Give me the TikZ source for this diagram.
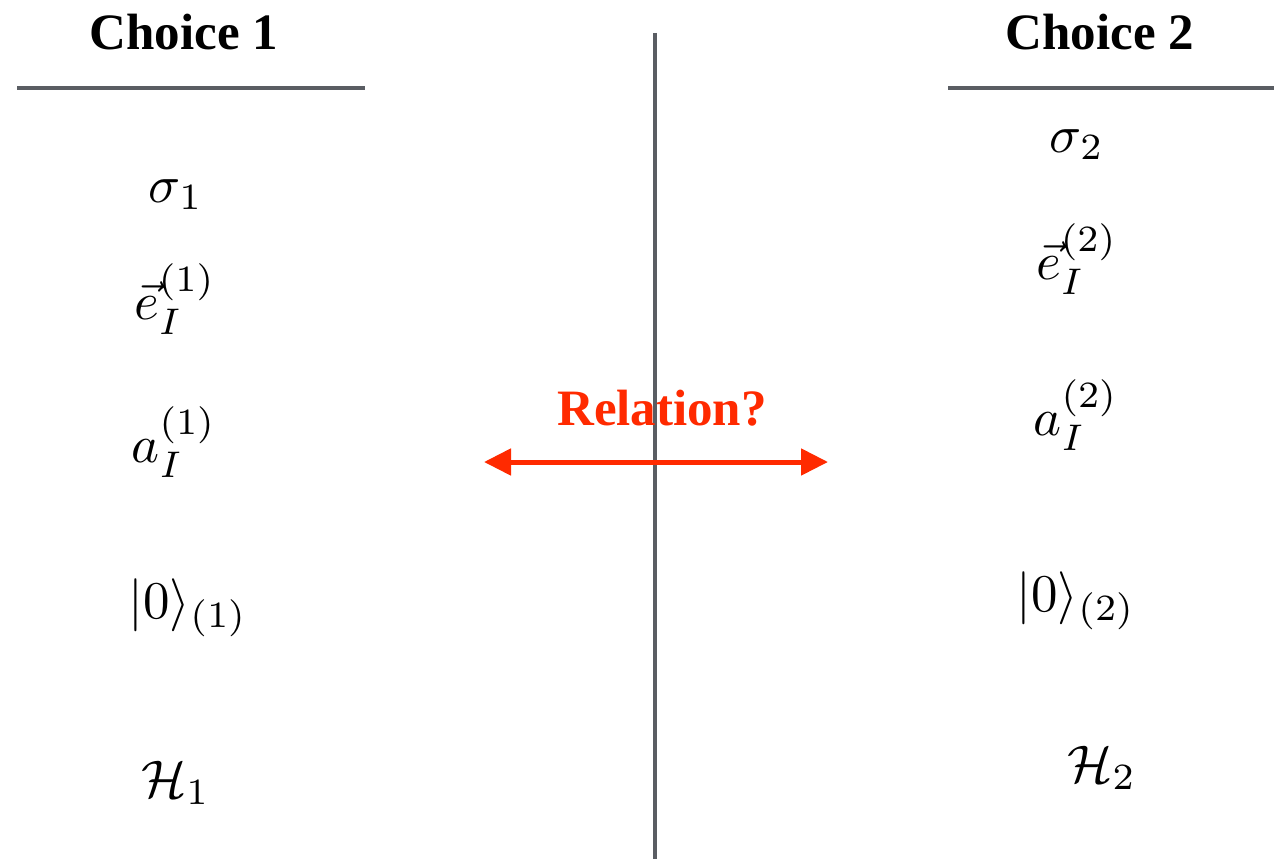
\RequirePackage{fix-cm}
\documentclass[tikz,border=0pt]{standalone}
\usepackage{fontspec}
\newfontfamily\headfont{Liberation Serif}
\usetikzlibrary{arrows.meta}
\definecolor{rulegray}{HTML}{5A5D63}
\definecolor{relred}{HTML}{FF2A00}
\newcommand\bigmath[1]{\scalebox{5.3}{$#1$}}
\begin{document}
\begin{tikzpicture}[x=1pt,y=-1pt,
  head/.style={anchor=base,inner sep=0pt,font=\headfont\bfseries\fontsize{51}{60}\selectfont},
  mathlbl/.style={anchor=base,inner sep=0pt,font=\fontsize{10}{12}\selectfont},
  rulel/.style={draw=rulegray,line width=4pt},
  relarrow/.style={draw=relred,line width=5pt,{Triangle[length=27pt,width=26pt]}-{Triangle[length=27pt,width=26pt]}}]
\useasboundingbox (0,0) rectangle (1274,859);
% headers
\node[head] (c1) at (184,50) {Choice 1};
\node[head] (c2) at (1100,50) {Choice 2};
% rules
\coordinate (l1a) at (17,88); \coordinate (l1b) at (365,88);
\coordinate (l2a) at (948,88); \coordinate (l2b) at (1274,88);
\coordinate (vt) at (655,33); \coordinate (vb) at (655,859);
\draw[rulel] (l1a) -- (l1b);
\draw[rulel] (l2a) -- (l2b);
\draw[rulel] (vt) -- (vb);
% left column
\node[mathlbl] (s1) at (176,202) {\bigmath{\sigma_1}};
\node[mathlbl] (e1) at (175,319) {\bigmath{\vec{e}_I^{(1)}}};
\node[mathlbl] (a1) at (174,462) {\bigmath{a_I^{(1)}}};
\node[mathlbl] (k1) at (188,618) {\bigmath{|0\rangle_{(1)}}};
\node[mathlbl] (h1) at (176,797) {\bigmath{\mathcal{H}_1}};
% right column
\node[mathlbl] (s2) at (1077,152) {\bigmath{\sigma_2}};
\node[mathlbl] (e2) at (1077,279) {\bigmath{\vec{e}_I^{(2)}}};
\node[mathlbl] (a2) at (1076,435) {\bigmath{a_I^{(2)}}};
\node[mathlbl] (k2) at (1076,611) {\bigmath{|0\rangle_{(2)}}};
\node[mathlbl] (h2) at (1102,782) {\bigmath{\mathcal{H}_2}};
% relation
\node[head,text=relred] (rel) at (662,425) {Relation?};
\coordinate (arrL) at (484,462); \coordinate (arrR) at (828,462);
\draw[relarrow] (arrL) -- (arrR);
\end{tikzpicture}
\end{document}
